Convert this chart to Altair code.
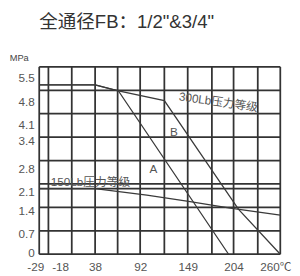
import altair as alt
import pandas as pd

title_text = '全通径FB：1/2"&3/4"'

# grid / ticks
temps_grid = [-29, -18, 10, 38, 65, 92, 121, 149, 178, 204, 233, 260]
temp_labels = {-29: "-29", -18: "-18", 38: "38", 92: "92", 149: "149", 204: "204", 260: "260℃"}
pres_grid = [0, 0.7, 1.4, 2.1, 2.8, 3.5, 4.2, 4.9, 5.6]
pres_ticks = [0, 0.7, 1.4, 2.1, 2.8, 3.4, 4.1, 4.8, 5.5]
rating_lines = [1.96]

# curves
curve_a_t = [-29, 38, 66, 198]
curve_a_p = [5.06, 5.06, 4.88, 0]
curve_b_t = [-29, 38, 66, 121, 210, 260]
curve_b_p = [5.06, 5.06, 4.88, 4.59, 1.34, 0]
c150_t = [-29, 38, 100, 150, 200, 260]
c150_p = [1.96, 1.96, 1.77, 1.58, 1.38, 1.17]

# annotations
ann_text = ["150Lb压力等级", "A", "B"]
ann_t = [32.4, 108, 132.5]
ann_p = [2.16, 2.54, 3.64]
rot_text = ["300Lb压力等级"]
rot_t = [185.7]
rot_p = [4.55]

FONT = "Liberation Sans, Noto Sans CJK SC"
GRID = "#333333"

rows = []
for name, ts, ps in [("A", curve_a_t, curve_a_p), ("B", curve_b_t, curve_b_p), ("150", c150_t, c150_p)]:
    for i, (t, p) in enumerate(zip(ts, ps)):
        rows.append({"t": t, "p": p, "series": name, "idx": i})
lines_df = pd.DataFrame(rows)

vgrid_df = pd.DataFrame({"t": temps_grid})
hgrid_df = pd.DataFrame({"p": pres_grid + rating_lines})
ann_df = pd.DataFrame({"t": ann_t, "p": ann_p, "label": ann_text})
rot_df = pd.DataFrame({"t": rot_t, "p": rot_p, "label": rot_text})

expr = "''"
for v in reversed(temps_grid):
    if v in temp_labels:
        expr = f"datum.value == {v} ? '{temp_labels[v]}' : ({expr})"

x_axis = alt.Axis(
    values=temps_grid, labelExpr=expr, grid=False, ticks=False, domain=False,
    labelFlush=False, labelOverlap=False, labelPadding=8, labelFontSize=12,
    labelColor="#555555", labelFont=FONT, title=None,
    labelOffset={"condition": [
        {"test": "datum.value == -29", "value": -4},
        {"test": "datum.value == -18", "value": 12},
        {"test": "datum.value == 260", "value": -5},
    ], "value": 0},
)
y_axis = alt.Axis(
    values=pres_ticks, labelExpr="datum.value + ''", grid=False, ticks=False, domain=False,
    labelOverlap=False, labelFlush=False, labelPadding=5, labelFontSize=12,
    labelColor="#555555", labelFont=FONT,
    labelOffset={"condition": [
        {"test": "datum.value == 0", "value": -2},
        {"test": "datum.value == 3.4", "value": 0},
        {"test": "datum.value < 2", "value": 3},
    ], "value": 8},
    title="MPa", titleAngle=0, titleX=-21, titleY=-10, titleAlign="center",
    titleBaseline="middle", titleFontSize=9.5, titleFontWeight="normal",
    titleColor="#444444", titleFont=FONT,
)

xs = alt.Scale(domain=[-29, 260], nice=False, zero=False)
ys = alt.Scale(domain=[0, 5.6], nice=False, zero=False)

vgrid = alt.Chart(vgrid_df).mark_rule(color=GRID, strokeWidth=1.8).encode(
    x=alt.X("t:Q", scale=xs, axis=x_axis))
hgrid = alt.Chart(hgrid_df).mark_rule(color=GRID, strokeWidth=1.8).encode(
    y=alt.Y("p:Q", scale=ys, axis=y_axis))
lines = alt.Chart(lines_df).mark_line(color="#3a3a3a", strokeWidth=1.3).encode(
    x=alt.X("t:Q", scale=xs, axis=x_axis),
    y=alt.Y("p:Q", scale=ys, axis=y_axis),
    detail="series:N", order="idx:Q")
ann = alt.Chart(ann_df).mark_text(font=FONT, fontSize=12, color="#555555").encode(
    x=alt.X("t:Q", scale=xs, axis=x_axis),
    y=alt.Y("p:Q", scale=ys, axis=y_axis),
    text="label:N")
rot = alt.Chart(rot_df).mark_text(font=FONT, fontSize=12, color="#555555", angle=8).encode(
    x=alt.X("t:Q", scale=xs, axis=x_axis),
    y=alt.Y("p:Q", scale=ys, axis=y_axis),
    text="label:N")

chart = alt.layer(vgrid, hgrid, lines, ann, rot).properties(
    width=247, height=192,
    title=alt.TitleParams(text=title_text, anchor="start", frame="group", fontSize=19,
                          font=FONT, fontWeight="normal", color="#333333", offset=21),
    autosize=alt.AutoSizeParams(type="none"),
    padding={"left": 32, "top": 57, "right": 12, "bottom": 20},
).configure_view(stroke=None)

chart.save("out.html", embed_options={"renderer": "svg", "actions": False})
